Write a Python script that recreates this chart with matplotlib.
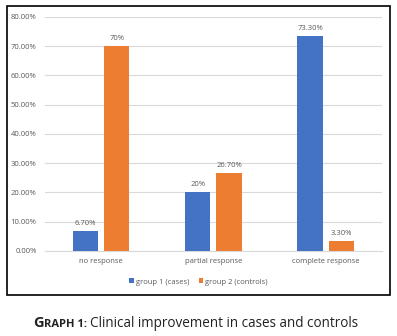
import numpy as np
import matplotlib.pyplot as plt
from matplotlib.patches import Rectangle

# data
categories = ["no response", "partial response", "complete response"]
cases = [6.7, 20.0, 73.3]
controls = [70.0, 26.7, 3.3]
case_labels = ["6.70%", "20%", "73.30%"]
control_labels = ["70%", "26.70%", "3.30%"]
series_names = ["group 1 (cases)", "group 2 (controls)"]

blue = "#4472C4"
orange = "#ED7D31"
txt = "#595959"

plt.rcParams["font.family"] = ["Open Sans", "DejaVu Sans"]

fig = plt.figure(figsize=(3.97, 3.36), dpi=100)
ax = fig.add_axes([0.113, 0.253, 0.849, 0.697])

x = np.arange(len(categories))
w = 0.225
off = 0.14
b1 = ax.bar(x - off, cases, w, color=blue, label=series_names[0], zorder=3)
b2 = ax.bar(x + off, controls, w, color=orange, label=series_names[1], zorder=3)

for bars, labs in ((b1, case_labels), (b2, control_labels)):
    for r, lab in zip(bars, labs):
        ax.annotate(lab, (r.get_x() + r.get_width() / 2, r.get_height()),
                    xytext=(0, 3), textcoords="offset points",
                    ha="center", va="bottom", fontsize=5.5, color=txt)

ax.set_xlim(-0.5, 2.5)
ax.set_ylim(0, 80)
ax.set_yticks(np.arange(0, 81, 10))
ax.set_yticklabels([f"{v:.2f}%" for v in np.arange(0, 81, 10)])
ax.set_xticks(x)
ax.set_xticklabels(categories)
ax.tick_params(axis="both", length=0, labelsize=5.5, labelcolor=txt)
ax.tick_params(axis="y", pad=6)
ax.tick_params(axis="x", pad=5)
ax.grid(axis="y", color="#D9D9D9", linewidth=0.8, zorder=0)
for s in ["top", "right", "left"]:
    ax.spines[s].set_visible(False)
ax.spines["bottom"].set_color("#D9D9D9")
ax.spines["bottom"].set_linewidth(0.8)

leg = fig.legend(loc="center", bbox_to_anchor=(0.5, 1 - 282 / 336), ncol=2,
                 frameon=False, fontsize=5.5, handlelength=0.6, handleheight=0.6,
                 handletextpad=0.3, columnspacing=1.2)
for t in leg.get_texts():
    t.set_color(txt)

# border box around the chart
fig.patches.append(Rectangle((7 / 397, 1 - 295 / 336), 383 / 397, 289 / 336,
                             transform=fig.transFigure, fill=False,
                             edgecolor="black", linewidth=1.2))

# caption with small caps "GRAPH 1:"
cy = 1 - 327 / 336
t0 = fig.text(33 / 397, cy, "G", fontsize=10.5, fontweight="bold", color="#222222",
              va="baseline", ha="left")
t1 = fig.text(0, 0, "RAPH 1:", fontsize=8, fontweight="bold", color="#222222",
              va="baseline")
fig.canvas.draw()
bb = t0.get_window_extent()
t1.set_position((bb.x1 / fig.bbox.width, cy))
fig.canvas.draw()
bb = t1.get_window_extent()
fig.text(bb.x1 / fig.bbox.width + 3 / 397, cy, "Clinical improvement in cases and controls",
         fontsize=9.75, color="#222222", va="baseline", ha="left")

fig.savefig("out.png", dpi=100)
